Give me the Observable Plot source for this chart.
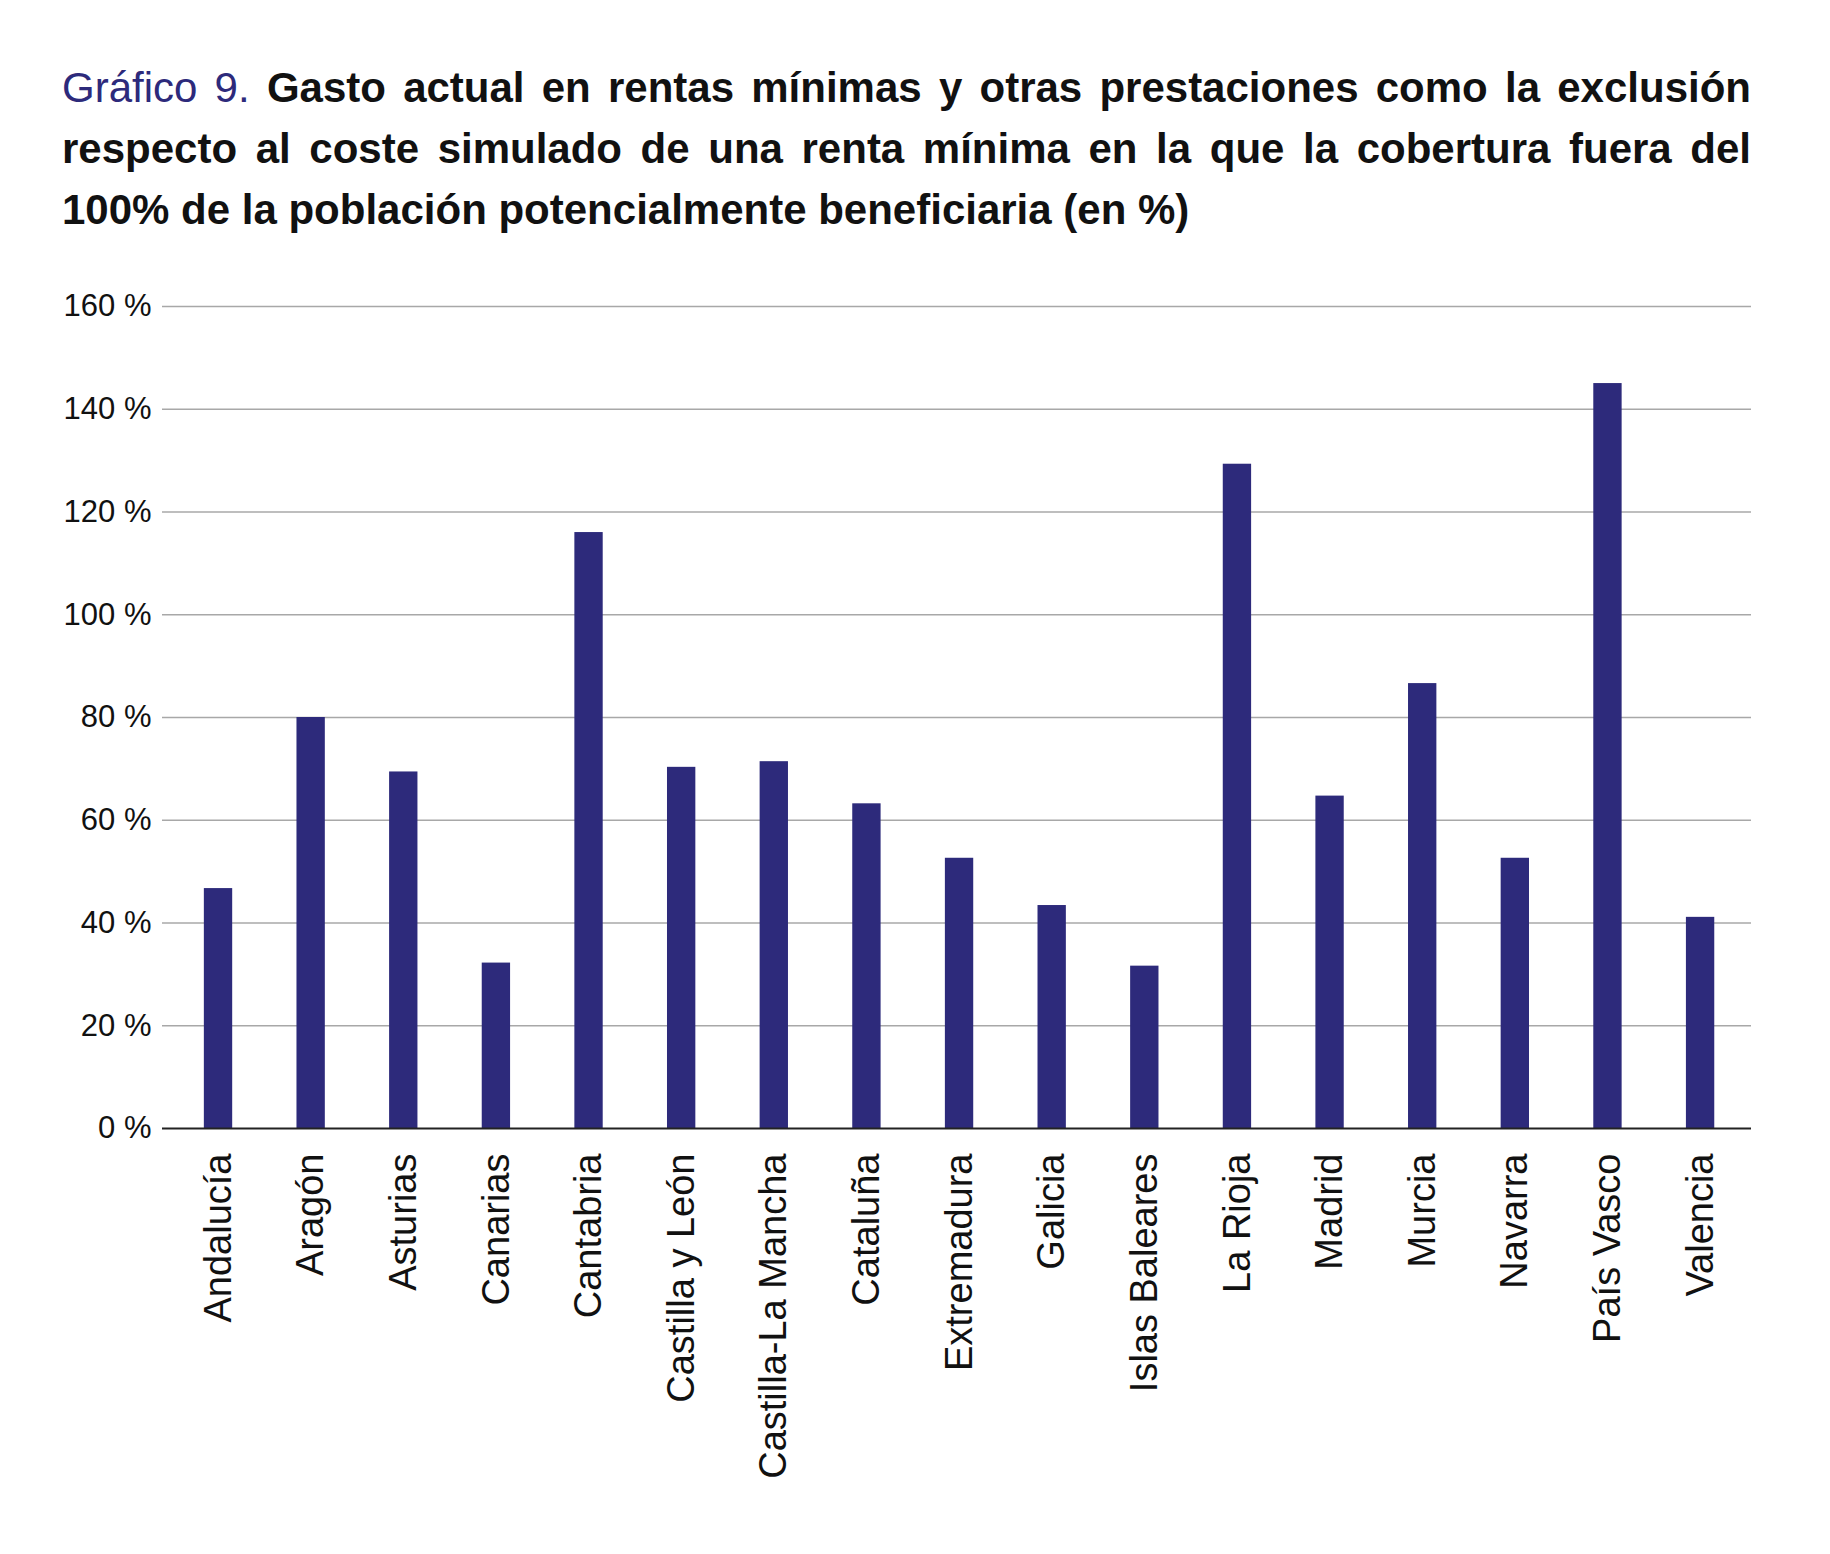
<!DOCTYPE html>
<html>
<head>
<meta charset="utf-8">
<script src="https://cdn.jsdelivr.net/npm/d3@7"></script>
<script src="https://cdn.jsdelivr.net/npm/@observablehq/plot@0.6"></script>
<style>
  html, body { margin: 0; padding: 0; background: #fff; }
  body { width: 1830px; height: 1554px; overflow: hidden; font-family: "Liberation Sans", Arial, Helvetica, sans-serif; }
  #title {
    margin: 57px 0 0 62px;
    width: 1689px;
    font-size: 42px;
    line-height: 61px;
    height: 183px;
    color: #111;
    font-weight: bold;
  }
  #title .line { height: 61px; white-space: nowrap; }
  #title .just { text-align: justify; text-align-last: justify; white-space: normal; }
  #title .num { color: #2d2a7b; font-weight: normal; }
  #chart svg { display: block; }
</style>
</head>
<body>
<div id="title">
  <div class="line just"><span class="num">Gráfico 9.</span> <span>Gasto actual en rentas mínimas y otras prestaciones como la exclusión</span></div>
  <div class="line just">respecto al coste simulado de una renta mínima en la que la cobertura fuera del</div>
  <div class="line">100% de la población potencialmente beneficiaria (en %)</div>
</div>
<div id="chart"></div>
<script>
const regions = ["Andalucía", "Aragón", "Asturias", "Canarias", "Cantabria", "Castilla y León", "Castilla-La Mancha", "Cataluña", "Extremadura", "Galicia", "Islas Baleares", "La Rioja", "Madrid", "Murcia", "Navarra", "País Vasco", "Valencia"];
const values = [46.7, 80.0, 69.4, 32.2, 116.0, 70.3, 71.4, 63.2, 52.6, 43.4, 31.6, 129.3, 64.7, 86.6, 52.6, 145.0, 41.1];
const yTicks = [0, 20, 40, 60, 80, 100, 120, 140, 160];

const data = regions.map((r, i) => ({region: r, value: values[i]}));

const chart = Plot.plot({
  width: 1830,
  height: 1314,
  marginLeft: 162,
  marginRight: 79,
  marginTop: 66,
  marginBottom: 426,
  style: {fontFamily: "'Liberation Sans', Arial, Helvetica, sans-serif", color: "#111", background: "#fff"},
  x: {type: "band", domain: regions, range: [171.7, 1746.4], paddingInner: 0.694, paddingOuter: 0.347, round: false, label: null},
  y: {domain: [0, 160], label: null},
  marks: [
    Plot.ruleY(yTicks.filter(d => d > 0), {stroke: "#a8a8a8", strokeWidth: 1.5}),
    Plot.barY(data, {x: "region", y: "value", fill: "#2d2a7b"}),
    Plot.ruleY([0], {stroke: "#222", strokeWidth: 2}),
    Plot.axisY({ticks: yTicks, tickFormat: d => d + " %", tickSize: 0, tickPadding: 11, fontSize: 31, label: null}),
    Plot.axisX({tickRotate: -90, tickSize: 0, tickPadding: 25, fontSize: 38, label: null})
  ]
});
document.getElementById("chart").appendChild(chart);
</script>
</body>
</html>
